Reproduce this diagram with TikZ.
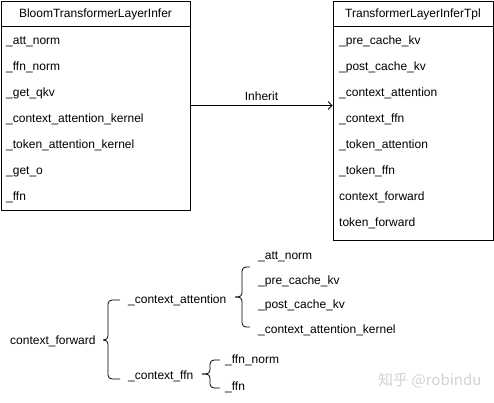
\documentclass[tikz,border=0pt]{standalone}
\usepackage{fontspec}
\setmainfont{Liberation Sans}
\newfontfamily\cjkfont{Noto Sans CJK SC}
\usepackage{tikz}
\usetikzlibrary{arrows.meta}
\usepackage{xcolor}
\tikzset{
	>={Straight Barb[length=4pt, width=8pt]},
	classbox/.style={draw=black, line width=0.8pt, fill=white, inner sep=0pt},
	header/.style={font=\fontsize{12}{14}\selectfont},
	member/.style={anchor=west, inner sep=0pt, font=\fontsize{12}{14}\selectfont, text height=8.6pt, text depth=0pt},
	sepline/.style={black, line width=0.8pt},
	inherit/.style={black, line width=0.8pt, ->},
	brace/.style={black, line width=0.8pt, rounded corners=4pt},
	watermark/.style={gray!35, font=\cjkfont\fontsize{15}{17}\selectfont},
}

\begin{document}
\begin{tikzpicture}[x=1pt, y=-1pt]
			
			\useasboundingbox (0,0) rectangle (494,402);
			
			% Class box (left)
			\node[classbox, minimum width=189pt, minimum height=209pt] (bloom) at (95.5,105.5) {};
			\node[header] (bloomname) at (95.5,14) {BloomTransformerLayerInfer};
			\draw[sepline] (bloom.west |- 0,26) -- (bloom.east |- 0,26);
			\node[member] (bloom1) at (6,40) {\_att\_norm};
			\node[member] (bloom2) at (6,66) {\_ffn\_norm};
			\node[member] (bloom3) at (6,92) {\_get\_qkv};
			\node[member] (bloom4) at (6,118) {\_context\_attention\_kernel};
			\node[member] (bloom5) at (6,144) {\_token\_attention\_kernel};
			\node[member] (bloom6) at (6,170) {\_get\_o};
			\node[member] (bloom7) at (6,196) {\_ffn};
			
			% Class box (right)
			\node[classbox, minimum width=160pt, minimum height=239pt] (tpl) at (413,120.5) {};
			\node[header] (tplname) at (413,14) {TransformerLayerInferTpl};
			\draw[sepline] (tpl.west |- 0,26) -- (tpl.east |- 0,26);
			\node[member] (tpl1) at (339,40) {\_pre\_cache\_kv};
			\node[member] (tpl2) at (339,66) {\_post\_cache\_kv};
			\node[member] (tpl3) at (339,92) {\_context\_attention};
			\node[member] (tpl4) at (339,118) {\_context\_ffn};
			\node[member] (tpl5) at (339,144) {\_token\_attention};
			\node[member] (tpl6) at (339,170) {\_token\_ffn};
			\node[member] (tpl7) at (339,196) {context\_forward};
			\node[member] (tpl8) at (339,222) {token\_forward};
			
			% Inheritance arrow
			\draw[inherit] (bloom.east) -- (tpl.west |- bloom.east) node[midway, above=1pt, header] (inh) {Inherit};
			
			% Call tree of context_forward
			\node[member] (cfwd) at (10,340) {context\_forward};
			\node[member] (cattn) at (128,299) {\_context\_attention};
			\node[member] (cffn) at (128,375) {\_context\_ffn};
			
			\node[member] (attn1) at (258,255) {\_att\_norm};
			\node[member] (attn2) at (258,280) {\_pre\_cache\_kv};
			\node[member] (attn3) at (258,304) {\_post\_cache\_kv};
			\node[member] (attn4) at (258,329) {\_context\_attention\_kernel};
			
			\node[member] (ffn1) at (225,359) {\_ffn\_norm};
			\node[member] (ffn2) at (225,386) {\_ffn};
			
			% Braces
			\draw[brace] (120,300) -| (108,340) -- (103,340);
			\draw[brace] (103,340) -- (108,340) |- (120,379);
			
			\draw[brace] (250,267) -| (242,297) -- (235,297);
			\draw[brace] (235,297) -- (242,297) |- (250,327);
			
			\draw[brace] (220,360) -| (210,374) -- (202,374);
			\draw[brace] (202,374) -- (210,374) |- (220,388);
			
			% Watermark
			\node[watermark, anchor=west, inner sep=0pt] (mark) at (378,380) {知乎 @robindu};
			
		\end{tikzpicture}
\end{document}
